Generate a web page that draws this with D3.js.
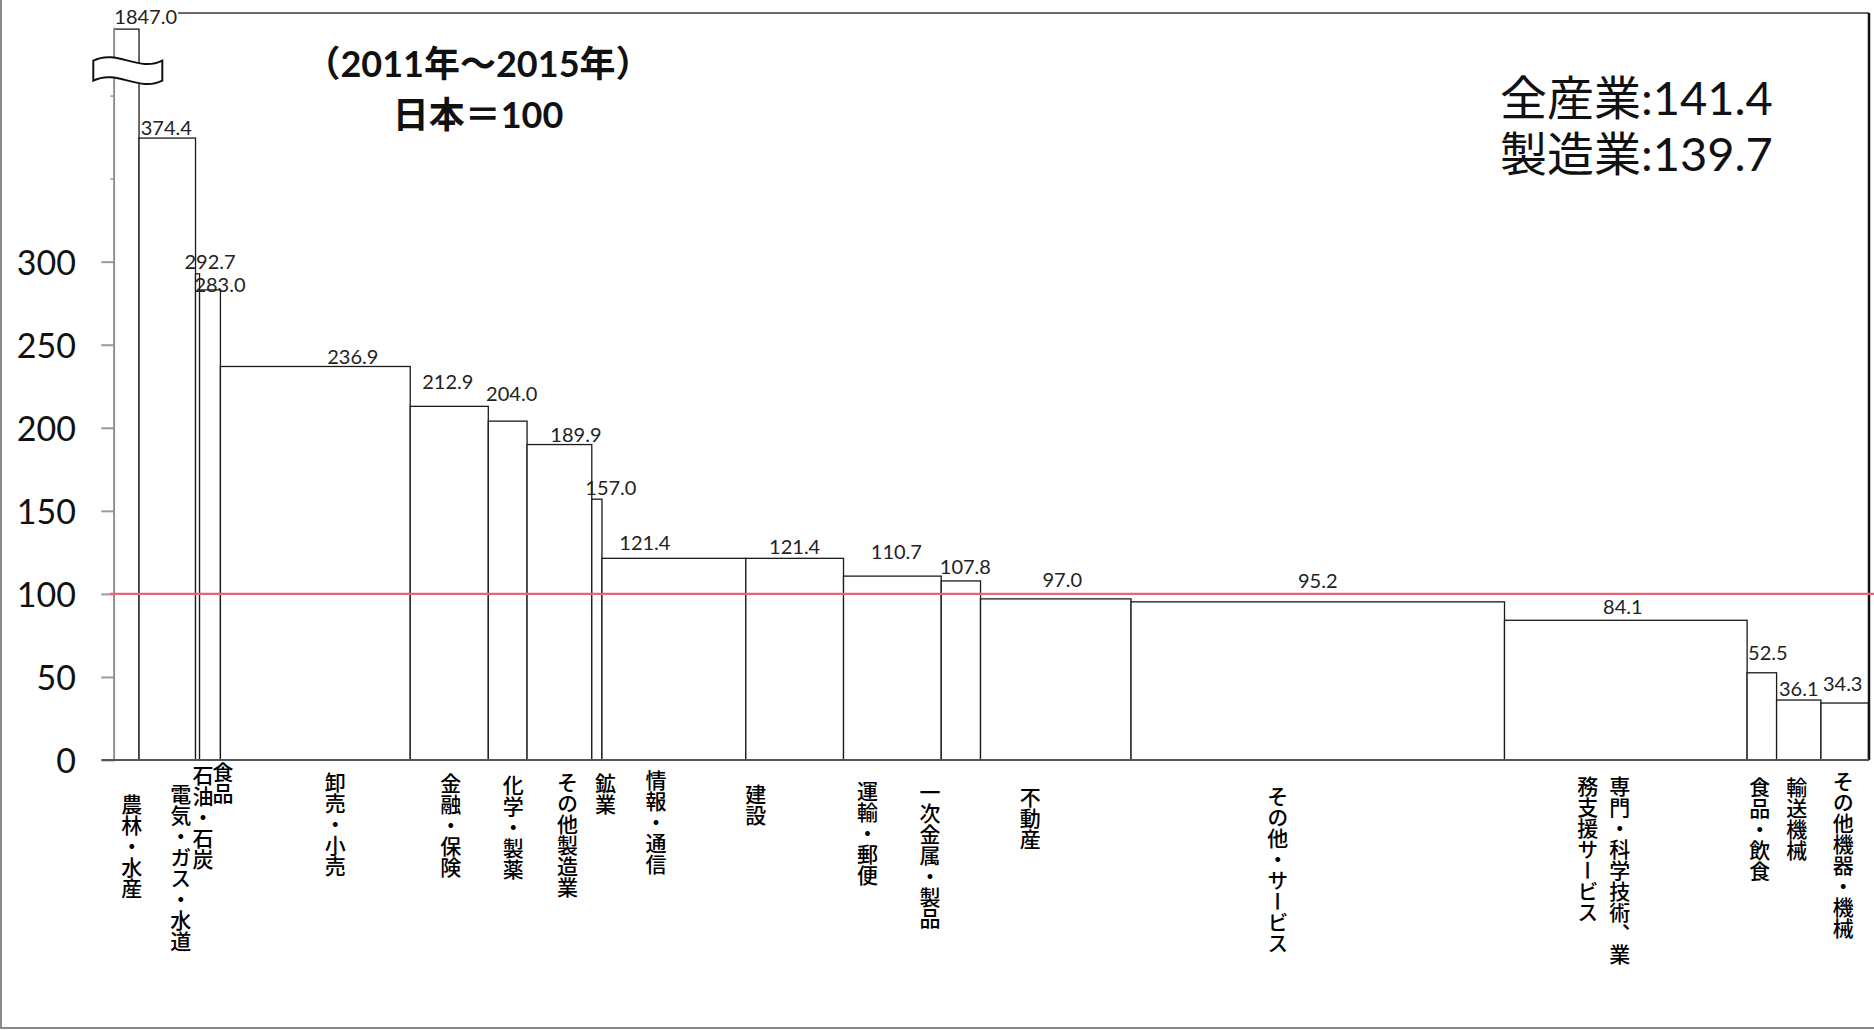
<!DOCTYPE html>
<html>
<head>
<meta charset="utf-8">
<script src="https://cdn.jsdelivr.net/npm/d3@7"></script>
<style>
  body { margin: 0; background: #fff; }
  svg { display: block; }
</style>
</head>
<body>
<svg id="chart" width="1874" height="1030"></svg>
<script>
// ---- data -------------------------------------------------------------
// Industry categories (label columns split on "\n")
const categories = [
  "農林・水産", "電気・ガス・水道", "石油・石炭", "食品", "卸売・小売",
  "金融・保険", "化学・製薬", "その他製造業", "鉱業", "情報・通信",
  "建設", "運輸・郵便", "一次金属・製品", "不動産", "その他・サービス",
  "専門・科学技術、業\n務支援サービス", "食品・飲食", "輸送機械", "その他機器・機械"
];
// Productivity level (Japan = 100)
const values = [
  1847.0, 374.4, 292.7, 283.0, 236.9,
  212.9, 204.0, 189.9, 157.0, 121.4,
  121.4, 110.7, 107.8, 97.0, 95.2,
  84.1, 52.5, 36.1, 34.3
];
// Share of each industry (%), sets the bar widths
const shares = [
  1.41, 3.22, 0.23, 1.19, 10.82,
  4.45, 2.21, 3.69, 0.58, 8.20,
  5.57, 5.57, 2.24, 8.58, 21.29,
  13.83, 1.68, 2.53, 2.71
];
const yTickValues = [0, 50, 100, 150, 200, 250, 300];
const yUnlabelledTicks = [350, 400];
const referenceLevel = 100;
const titleLines = ["（2011年～2015年）", "日本＝100"];
const summaryNames = ["全産業", "製造業"];
const summaryValues = [141.4, 139.7];

// ---- layout -----------------------------------------------------------
const W = 1874, H = 1030;
const plot = { left: 114.3, right: 1868.5, top: 12.5, bottom: 760 };
const axisMax = 450;      // top of the value axis
const axisCap = 440;      // bars beyond the axis are cut at the break
// value-label nudges [dx, dy] from the top centre of each bar
const valueLabelNudge = [
  [19, -12.5], [-1, -10.5], [12.5, -11.5], [10, -4.5], [37.5, -9.5],
  [-1.5, -24], [4, -27], [16.5, -9.5], [14, -11], [-29, -15.5],
  [0, -11], [4, -24], [4.5, -14], [6.5, -18.5], [0, -21],
  [-3, -13], [6, -20], [0, -11], [-2, -19.5]
];
// category-label nudges [dx from bar centre, gap below axis]
const catLabelNudge = [
  [5, 34], [13.5, 24], [5.5, 5], [13, 2], [20, 12],
  [1.5, 13], [5.5, 15], [8, 12], [8.5, 13], [-18, 10],
  [-39, 24], [-25, 21], [-31, 22], [-25.5, 27], [-40, 26],
  [-6, 15.5], [-2, 17], [-2, 17], [-1.5, 10.5]
];

const LATIN = "Lato, 'Noto Sans CJK JP', sans-serif";
const CJK = "'Noto Sans CJK JP', 'Noto Sans', sans-serif";

const svg = d3.select("#chart");

const x = d3.scaleLinear().domain([0, d3.sum(shares)]).range([plot.left, plot.right]);
const y = d3.scaleLinear().domain([0, axisMax]).range([plot.bottom, plot.top]);

const starts = [0, ...d3.cumsum(shares)].slice(0, shares.length);
const bars = categories.map((c, i) => ({
  name: c, value: values[i], x0: starts[i], x1: starts[i] + shares[i], i
}));

// outer frame (left + bottom edges)
svg.append("line").attr("x1", 1).attr("x2", 1).attr("y1", 0).attr("y2", 1028)
  .attr("stroke", "#8a8a8a").attr("stroke-width", 2);
svg.append("line").attr("x1", 0).attr("x2", W).attr("y1", 1028).attr("y2", 1028)
  .attr("stroke", "#8a8a8a").attr("stroke-width", 2);

// bars
svg.append("g").selectAll("rect").data(bars).join("rect")
  .attr("x", d => x(d.x0))
  .attr("width", d => x(d.x1) - x(d.x0))
  .attr("y", d => y(Math.min(d.value, axisCap)))
  .attr("height", d => y(0) - y(Math.min(d.value, axisCap)))
  .attr("fill", "#fff")
  .attr("stroke", "#1a1a1a")
  .attr("stroke-width", 1.3);

// value axis
const yAxis = d3.axisLeft(y).tickValues(yTickValues).tickSize(13).tickFormat("");
const gy = svg.append("g").attr("transform", `translate(${plot.left},0)`).call(yAxis);
gy.select(".domain").remove();
gy.selectAll(".tick line").attr("stroke", "#9a9a9a").attr("stroke-width", 2);
const yAxisMinor = d3.axisLeft(y).tickValues(yUnlabelledTicks).tickSize(4).tickFormat("");
const gy2 = svg.append("g").attr("transform", `translate(${plot.left},0)`).call(yAxisMinor);
gy2.select(".domain").remove();
gy2.selectAll(".tick line").attr("stroke", "#9a9a9a").attr("stroke-width", 1.5);

svg.append("g").selectAll("text").data(yTickValues).join("text")
  .attr("x", 76).attr("y", d => y(d) + 13)
  .attr("text-anchor", "end")
  .attr("font-family", LATIN).attr("font-size", 34).attr("fill", "#111")
  .text(d => d);

svg.append("line")
  .attr("x1", plot.left).attr("x2", plot.left)
  .attr("y1", plot.top).attr("y2", plot.bottom)
  .attr("stroke", "#8c8c8c").attr("stroke-width", 1.5);

// plot frame: top and right edges, baseline
svg.append("line").attr("x1", plot.left).attr("x2", 1869).attr("y1", 13).attr("y2", 13)
  .attr("stroke", "#6b6b6b").attr("stroke-width", 2);
svg.append("line").attr("x1", 1869).attr("x2", 1869).attr("y1", 13).attr("y2", y(0))
  .attr("stroke", "#111").attr("stroke-width", 2.5);
svg.append("line").attr("x1", 101.5).attr("x2", 1869).attr("y1", y(0)).attr("y2", y(0))
  .attr("stroke", "#555").attr("stroke-width", 1.8);

// Japan = 100 reference line
svg.append("line")
  .attr("x1", 110).attr("x2", W)
  .attr("y1", y(referenceLevel)).attr("y2", y(referenceLevel))
  .attr("stroke", "#e4667a").attr("stroke-width", 2.2);

// axis break mark on the first bar
(function () {
  const L = x(0) - 21, R = x(0) + 48, w = R - L;
  const y0 = y(415) - 10, y1 = y(415) + 10;
  const p = `M${L},${y0} C${L + 0.35 * w},${y0 - 12} ${L + 0.65 * w},${y0 + 12} ${R},${y0}
             L${R},${y1} C${L + 0.65 * w},${y1 + 12} ${L + 0.35 * w},${y1 - 12} ${L},${y1} Z`;
  svg.append("path").attr("d", p).attr("fill", "#fff").attr("stroke", "#111").attr("stroke-width", 2);
})();

// value labels
const vl = svg.append("g");
bars.forEach(d => {
  const [dx, dy] = valueLabelNudge[d.i];
  const cx = (x(d.x0) + x(d.x1)) / 2 + dx;
  const cy = y(Math.min(d.value, axisCap)) + dy;
  const t = vl.append("text")
    .attr("x", cx).attr("y", cy + 7)
    .attr("text-anchor", "middle")
    .attr("font-family", LATIN).attr("font-size", 20).attr("fill", "#222")
    .text(d3.format(".1f")(d.value));
  if (d.value > axisCap) {
    const b = t.node().getBBox();
    vl.insert("rect", "text").attr("x", b.x - 1).attr("y", b.y).attr("width", b.width + 2)
      .attr("height", b.height).attr("fill", "#fff");
  }
});

// category labels (vertical text)
const cl = svg.append("g");
bars.forEach(d => {
  const [dx, gap] = catLabelNudge[d.i];
  const cx = (x(d.x0) + x(d.x1)) / 2 + dx;
  d.name.split("\n").forEach((col, k) => {
    cl.append("text")
      .attr("x", cx - k * 32).attr("y", y(0) + gap)
      .style("writing-mode", "vertical-rl")
      .attr("font-family", CJK).attr("font-weight", 500).attr("font-size", 21).attr("fill", "#000")
      .text(col);
  });
});

// heading
svg.append("g").selectAll("text").data(titleLines).join("text")
  .attr("x", 478).attr("y", (d, i) => 77 + i * 51)
  .attr("text-anchor", "middle")
  .attr("font-family", LATIN).attr("font-weight", 700).attr("font-size", 36).attr("fill", "#111")
  .text(d => d);

// overall levels
svg.append("g").selectAll("text").data(summaryNames).join("text")
  .attr("x", 1500).attr("y", (d, i) => 114.5 + i * 56.5)
  .attr("font-family", LATIN).attr("font-size", 47).attr("fill", "#111")
  .text((d, i) => `${d}:${d3.format(".1f")(summaryValues[i])}`);
</script>
</body>
</html>
